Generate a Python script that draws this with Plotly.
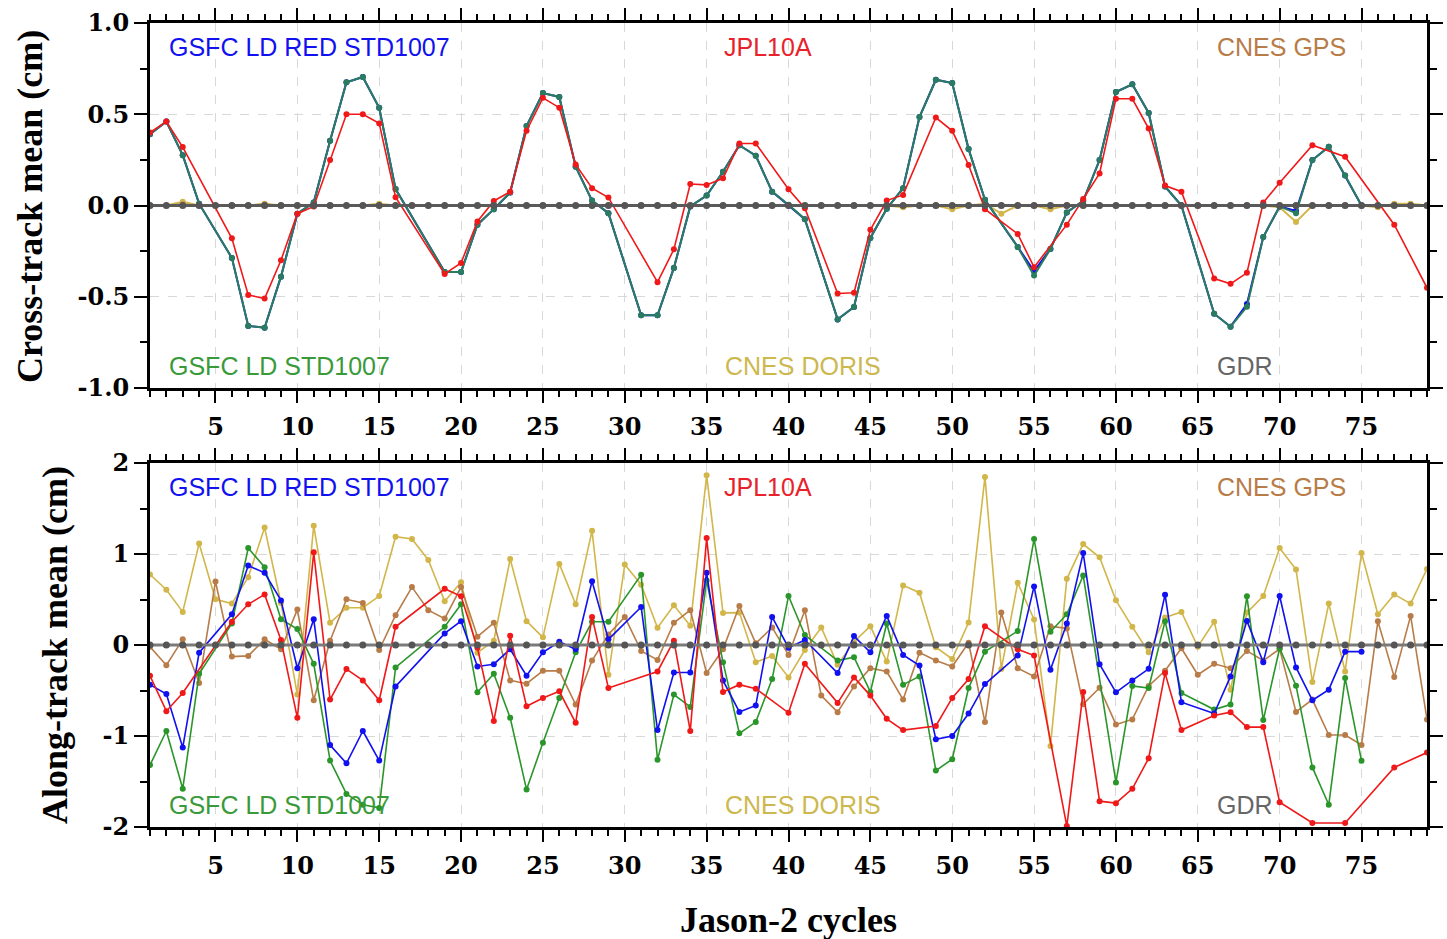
import plotly.graph_objects as go

N = None
cycles = list(range(1, 80))
x_ticks = [5, 10, 15, 20, 25, 30, 35, 40, 45, 50, 55, 60, 65, 70, 75]
y1_ticks = [-1.0, -0.5, 0.0, 0.5, 1.0]
y1_ticktext = ["-1.0", "-0.5", "0.0", "0.5", "1.0"]
y2_ticks = [-2, -1, 0, 1, 2]
y2_ticktext = ["-2", "-1", "0", "1", "2"]

# ---------------- Cross-track mean (cm) ----------------
ct_jpl = [0.40, 0.46, 0.32, N, N, -0.18, -0.49, -0.51, -0.30, -0.045,
          -0.005, 0.25, 0.50, 0.50, 0.45, 0.045, N, N, -0.375, -0.315,
          -0.087, 0.025, 0.076, 0.41, 0.59, 0.536, 0.225, 0.095, 0.044, N,
          N, -0.42, -0.24, 0.118, 0.113, 0.149, 0.34, 0.34, N, 0.089,
          -0.015, N, -0.482, -0.478, -0.133, 0.027, 0.058, N, 0.482, 0.409,
          0.222, -0.02, N, -0.156, -0.338, N, -0.105, 0.035, 0.176, 0.585,
          0.585, 0.422, 0.109, 0.076, N, -0.40, -0.429, -0.369, 0.016, 0.125,
          N, 0.33, N, 0.267, N, N, -0.105, N, -0.451]
ct_gsfc = [0.39, 0.46, 0.276, 0.01, N, -0.287, -0.66, -0.67, -0.39, -0.045,
           0.016, 0.355, 0.675, 0.704, 0.535, 0.09, N, N, -0.364, -0.364,
           -0.105, -0.02, 0.071, 0.435, 0.616, 0.595, 0.213, 0.027, -0.042, N,
           -0.602, -0.602, -0.342, -0.005, 0.055, 0.185, 0.33, 0.273, 0.076, 0.004,
           -0.075, N, -0.624, -0.556, -0.178, -0.018, 0.095, 0.485, 0.689, 0.671,
           0.309, 0.031, N, -0.227, -0.384, -0.238, -0.038, 0.025, 0.249, 0.622,
           0.664, 0.507, 0.104, 0.0, N, -0.593, -0.664, -0.555, -0.173, -0.005,
           -0.042, 0.249, 0.322, 0.164, 0.0, N, N, N, N]
ct_gsfc_red = [0.39, 0.46, 0.276, 0.01, N, -0.287, -0.66, -0.67, -0.39, -0.045,
               0.016, 0.355, 0.675, 0.704, 0.535, 0.09, N, N, -0.364, -0.364,
               -0.105, -0.02, 0.071, 0.435, 0.616, 0.595, 0.213, 0.027, -0.042, N,
               -0.602, -0.602, -0.342, -0.005, 0.055, 0.185, 0.33, 0.273, 0.076, 0.0,
               -0.075, N, -0.624, -0.556, -0.178, -0.018, 0.095, 0.485, 0.689, 0.671,
               0.309, 0.031, N, -0.227, -0.36, -0.238, -0.038, 0.025, 0.249, 0.622,
               0.664, 0.507, 0.104, 0.0, N, -0.593, -0.664, -0.54, -0.173, -0.005,
               -0.03, 0.249, 0.322, 0.164, 0.0, N, N, N, N]
ct_doris = [0.0, 0.0, 0.02, 0.0, 0.0, 0.0, 0.0, 0.01, 0.0, 0.0,
            0.0, 0.0, 0.0, 0.0, 0.01, 0.0, 0.0, 0.0, 0.0, 0.0,
            0.0, 0.0, 0.0, 0.0, 0.0, 0.0, 0.0, 0.0, 0.0, 0.0,
            0.0, 0.0, 0.0, 0.0, 0.0, 0.0, 0.0, 0.0, 0.0, 0.0,
            0.0, 0.0, 0.0, 0.0, 0.0, 0.0, -0.01, 0.0, 0.0, -0.02,
            0.0, 0.01, -0.045, 0.0, 0.0, -0.02, 0.0, 0.0, 0.0, 0.0,
            0.0, 0.0, 0.0, 0.0, 0.0, 0.0, 0.0, 0.0, 0.0, -0.01,
            -0.09, 0.0, 0.0, 0.0, 0.0, -0.01, 0.01, 0.01, 0.0]
ct_gps = [0.0, 0.0, 0.005, 0.0, 0.0, 0.0, 0.0, 0.005, 0.0, 0.0,
          0.0, 0.0, 0.0, 0.0, 0.0, 0.0, 0.0, 0.0, 0.0, 0.0,
          0.0, 0.0, 0.0, 0.0, 0.0, 0.0, 0.0, 0.0, 0.0, 0.0,
          0.0, 0.0, 0.0, 0.0, 0.0, 0.0, 0.0, 0.0, 0.0, 0.0,
          0.0, 0.0, 0.0, 0.0, 0.0, 0.0, 0.0, 0.0, 0.0, 0.0,
          0.0, 0.0, 0.0, 0.0, 0.0, 0.0, 0.0, 0.0, 0.0, 0.0,
          0.0, 0.0, 0.0, 0.0, 0.0, 0.0, 0.0, 0.0, 0.0, 0.0,
          0.0, 0.0, 0.0, 0.0, 0.0, 0.0, 0.0, 0.0, 0.0]
ct_gdr = [0.0] * 79

# ---------------- Along-track mean (cm) ----------------
at_gsfc_red = [-0.436, -0.538, -1.127, -0.084, N, 0.338, 0.873, 0.793, 0.49, -0.255,
               0.284, -1.10, -1.30, -0.945, -1.27, -0.455, N, N, 0.127, 0.262,
               -0.236, -0.211, -0.047, -0.338, -0.08, 0.036, -0.047, 0.70, 0.062, N,
               0.418, -0.935, -0.302, -0.302, 0.793, -0.389, -0.735, -0.665, 0.309, -0.03,
               0.055, N, -0.309, 0.098, -0.08, 0.32, -0.109, -0.225, -1.036, -1.0,
               -0.753, -0.429, N, -0.116, 0.644, -0.273, 0.236, 1.01, -0.211, -0.52,
               -0.389, -0.262, 0.553, -0.629, N, -0.753, -0.345, 0.265, -0.189, 0.538,
               -0.247, -0.607, -0.491, -0.073, -0.073, N, N, N, N]
at_jpl = [-0.338, -0.727, -0.527, N, N, 0.255, 0.447, 0.556, 0.055, -0.80,
          1.018, -0.60, -0.265, -0.389, -0.607, 0.2, N, N, 0.618, 0.535,
          -0.03, -0.836, 0.102, -0.673, -0.582, -0.509, -0.855, 0.309, -0.473, N,
          N, -0.291, 0.047, -0.945, 1.175, -0.516, -0.436, -0.48, N, -0.745,
          -0.207, N, -0.636, -0.356, -0.556, -0.811, -0.935, N, -0.89, -0.582,
          -0.375, 0.207, N, -0.047, -0.116, N, -1.99, -0.516, -1.716, -1.738,
          -1.58, -1.244, -0.309, -0.935, N, -0.775, -0.738, -0.902, -0.902, -1.727,
          N, -1.956, N, -1.956, N, N, -1.345, N, -1.182]
at_gsfc = [-1.32, -0.945, -1.58, -0.316, N, 0.236, 1.065, 0.855, 0.284, 0.175,
           -0.207, -1.27, -1.636, -1.756, -1.79, -0.247, N, N, 0.2, 0.447,
           -0.52, -0.316, -0.80, -1.589, -1.073, -0.582, -0.08, 0.255, 0.255, N,
           0.771, -1.262, -0.545, -0.68, 0.709, -0.189, -0.971, -0.847, -0.375, 0.538,
           0.109, N, -0.171, -0.135, -0.516, 0.236, -0.436, -0.345, -1.38, -1.255,
           -0.473, -0.073, N, 0.153, 1.164, 0.145, 0.338, 0.764, N, -1.51,
           -0.45, -0.473, 0.262, -0.527, N, -0.709, -0.655, 0.535, -0.825, -0.036,
           -0.447, -1.345, -1.756, -0.364, -1.273, N, N, N, N]
at_doris = [0.775, 0.607, 0.364, 1.116, 0.502, 0.455, 0.745, 1.29, 0.462, -0.545,
            1.31, 0.244, 0.41, 0.41, 0.538, 1.19, 1.164, 0.935, 0.48, 0.69,
            -0.084, 0.047, 0.945, 0.262, 0.084, 0.891, 0.447, 1.255, -0.327, 0.884,
            0.662, 0.189, 0.436, 0.211, 1.865, 0.353, 0.356, -0.189, -0.12, -0.356,
            -0.055, 0.193, -0.218, 0.036, 0.207, -0.182, 0.655, 0.575, -0.025, -0.153,
            0.247, 1.847, -0.265, 0.684, 0.28, -1.109, 0.727, 1.109, 0.964, 0.491,
            0.2, -0.08, 0.302, 0.364, -0.018, 0.255, -0.491, 0.356, 0.538, 1.065,
            0.829, -0.407, 0.455, -0.291, 1.011, 0.338, 0.556, 0.455, 0.836]
at_gps = [-0.02, -0.222, 0.062, -0.418, 0.698, -0.127, -0.12, 0.062, -0.047, 0.389,
          -0.607, 0.047, 0.502, 0.462, -0.055, 0.327, 0.636, 0.382, 0.29, 0.636,
          0.091, 0.244, -0.389, -0.425, -0.284, -0.284, -0.655, -0.171, 0.116, 0.309,
          -0.065, -0.164, 0.244, 0.382, -0.309, -0.047, 0.429, 0.018, 0.193, -0.109,
          0.382, -0.556, -0.738, -0.455, -0.255, -0.291, -0.6, -0.084, -0.171, -0.236,
          0.025, -0.847, 0.356, -0.255, -0.345, 0.207, 0.182, -0.65, -0.47, -0.873,
          -0.818, -0.45, -0.284, -0.036, -0.327, -0.207, -0.255, -0.065, -0.171, -0.044,
          -0.735, -0.6, -0.989, -0.989, -1.098, 0.262, -0.353, 0.32, -0.818]
at_gdr = [0.0] * 79

C_BLUE = "#1010f0"
C_RED = "#f01818"
C_GREEN = "#2a962a"
C_GREEN_TOP = "#2a7d5c"
C_DORIS = "#d2b64a"
C_GPS = "#b87c48"
C_GDR_LINE = "#7a7a7a"
C_GDR_DOT = "#555555"

fig = go.Figure()


def add(y, color, xa, ya, width=1.6, size=6, lcolor=None):
    fig.add_trace(go.Scatter(
        x=cycles, y=y, mode="lines+markers", connectgaps=True,
        line=dict(color=lcolor or color, width=width),
        marker=dict(color=color, size=size),
        xaxis=xa, yaxis=ya, showlegend=False, hoverinfo="x+y"))


# top panel
add(ct_doris, C_DORIS, "x", "y", width=2)
add(ct_gps, C_GPS, "x", "y", width=2)
add(ct_gsfc_red, C_BLUE, "x", "y", width=2)
add(ct_gsfc, C_GREEN_TOP, "x", "y", width=2)
add(ct_jpl, C_RED, "x", "y", width=1.6)
add(ct_gdr, C_GDR_DOT, "x", "y", width=3, size=7, lcolor="#5a5a5a")

# bottom panel
add(at_doris, C_DORIS, "x2", "y2")
add(at_gps, C_GPS, "x2", "y2")
add(at_gsfc, C_GREEN, "x2", "y2")
add(at_gsfc_red, C_BLUE, "x2", "y2")
add(at_jpl, C_RED, "x2", "y2")
add(at_gdr, C_GDR_DOT, "x2", "y2", width=3, size=7, lcolor=C_GDR_LINE)

H = 939
TICKFONT = dict(family="DejaVu Serif", size=24, color="black", weight="bold")


def xax(anchor):
    return dict(range=[1, 79], anchor=anchor, tickvals=x_ticks, automargin=False,
                ticks="outside", ticklen=12, tickwidth=2, tickcolor="black",
                mirror="allticks", showline=True, linewidth=3, linecolor="black",
                showgrid=True, gridcolor="#d8d8d8", griddash="dash", gridwidth=1,
                zeroline=False, tickfont=TICKFONT, ticklabelstandoff=3,
                minor=dict(dtick=1, tick0=1, ticks="outside", ticklen=6,
                           tickwidth=1.5, tickcolor="black", showgrid=False))


def yax(anchor, rng, tv, tt, minor_dt, dom):
    return dict(range=rng, anchor=anchor, domain=dom, tickvals=tv, ticktext=tt,
                automargin=False,
                ticks="outside", ticklen=13, tickwidth=2, tickcolor="black",
                mirror="allticks", showline=True, linewidth=3, linecolor="black",
                showgrid=True, gridcolor="#d8d8d8", griddash="dash", gridwidth=1,
                zeroline=False, tickfont=TICKFONT, ticklabelstandoff=0,
                minor=dict(dtick=minor_dt, ticks="outside", ticklen=7,
                           tickwidth=1.5, tickcolor="black", showgrid=False))


dom_top = [1 - 388 / H, 1 - 23 / H]
dom_bot = [1 - 827 / H, 1 - 463 / H]

fig.update_layout(
    template="none",
    width=1447, height=939,
    margin=dict(l=150, r=20, t=0, b=0, autoexpand=False),
    paper_bgcolor="white", plot_bgcolor="white",
    xaxis=xax("y"),
    yaxis=yax("x", [-1, 1], y1_ticks, y1_ticktext, 0.25, dom_top),
    xaxis2=xax("y2"),
    yaxis2=yax("x2", [-2, 2], y2_ticks, y2_ticktext, 0.5, dom_bot),
)

LAB = dict(family="Liberation Sans", size=25)
labels = [
    ("GSFC LD RED STD1007", 0.013, 0.934, C_BLUE),
    ("JPL10A", 0.448, 0.934, "#e8222a"),
    ("CNES GPS", 0.834, 0.934, C_GPS),
    ("GSFC LD STD1007", 0.013, 0.06, "#3a9a3a"),
    ("CNES DORIS", 0.449, 0.06, "#cdb84e"),
    ("GDR", 0.834, 0.06, "#666666"),
]
for xr, yr in (("x domain", "y domain"), ("x2 domain", "y2 domain")):
    for txt, ax, ay, col in labels:
        fig.add_annotation(text=txt, x=ax, y=ay, xref=xr, yref=yr,
                           xanchor="left", yanchor="middle", showarrow=False,
                           font=dict(LAB, color=col))

TITLEFONT = dict(family="Liberation Serif", size=36, color="black", weight="bold")
fig.add_annotation(text="Cross-track mean (cm)", textangle=-90,
                   x=(30 - 150) / 1277, y=1 - 207 / H, xref="paper", yref="paper",
                   xanchor="center", yanchor="middle", showarrow=False, font=TITLEFONT)
fig.add_annotation(text="Along-track mean (cm)", textangle=-90,
                   x=(55 - 150) / 1277, y=1 - 645 / H, xref="paper", yref="paper",
                   xanchor="center", yanchor="middle", showarrow=False, font=TITLEFONT)
fig.add_annotation(text="Jason-2 cycles", x=(788 - 150) / 1277, y=1 - 920 / H,
                   xref="paper", yref="paper", xanchor="center", yanchor="middle",
                   showarrow=False,
                   font=dict(family="Liberation Serif", size=36, color="black", weight="bold"))

fig.write_html("out.html")
